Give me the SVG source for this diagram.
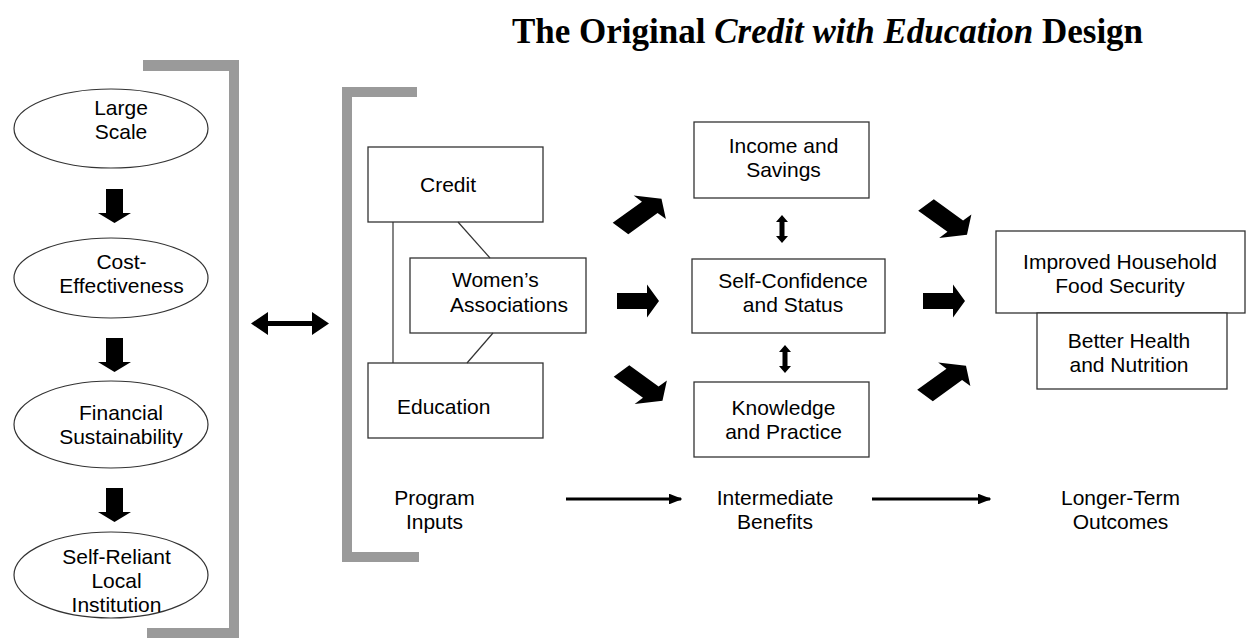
<svg xmlns="http://www.w3.org/2000/svg" xmlns:xlink="http://www.w3.org/1999/xlink" width="1248" height="642" viewBox="0 0 1248 642">
  <style>
    .lbl { font-family: "Liberation Sans", Arial, sans-serif; font-size: 21px; fill: #000; }
    .ttl { font-family: "Liberation Serif", "Times New Roman", serif; font-size: 35px; font-weight: bold; fill: #000; }
    .box { fill: #fff; stroke: #333; stroke-width: 1.3; }
    .oval { fill: #fff; stroke: #333; stroke-width: 1.2; }
    .bracket { fill: #9a9a9a; }
    .blk { fill: #000; }
    .link { stroke: #333; stroke-width: 1.2; fill: none; }
    .flow { stroke: #000; stroke-width: 3; fill: none; }
  </style>
  <defs>
    <!-- block arrow pointing along +x, origin at the tail centre -->
    <path id="blockArrow" d="M0,-8 H30 V-16.5 L42,0 L30,16.5 V8 H0 Z"/>
    <marker id="head" viewBox="0 0 10 8" refX="9" refY="4" markerWidth="4.5" markerHeight="3.6" orient="auto" markerUnits="strokeWidth">
      <path d="M0,0 L10,4 L0,8 Z" fill="#000"/>
    </marker>
  </defs>

  <rect width="1248" height="642" fill="#fff"/>

  <!-- title -->
  <text class="ttl" x="512" y="43">The Original <tspan font-style="italic">Credit with Education</tspan> Design</text>

  <!-- gray brackets -->
  <g id="bracket-left" class="bracket">
    <rect x="143" y="60" width="96" height="11"/>
    <rect x="229" y="60" width="10" height="578"/>
    <rect x="147" y="628" width="92" height="10"/>
  </g>
  <g id="bracket-inputs" class="bracket">
    <rect x="342" y="87" width="75" height="10"/>
    <rect x="342" y="87" width="10" height="475"/>
    <rect x="342" y="552" width="77" height="10"/>
  </g>

  <!-- institutional goals -->
  <g id="large-scale">
    <ellipse class="oval" cx="111" cy="128.5" rx="97" ry="39.5"/>
    <text class="lbl" x="121" y="115" text-anchor="middle">Large</text>
    <text class="lbl" x="121" y="139" text-anchor="middle">Scale</text>
  </g>
  <g id="cost-effectiveness">
    <ellipse class="oval" cx="111" cy="278" rx="97" ry="40"/>
    <text class="lbl" x="121.5" y="268.5" text-anchor="middle">Cost-</text>
    <text class="lbl" x="121.5" y="292.5" text-anchor="middle">Effectiveness</text>
  </g>
  <g id="financial-sustainability">
    <ellipse class="oval" cx="111" cy="424.5" rx="97" ry="43.5"/>
    <text class="lbl" x="121" y="420" text-anchor="middle">Financial</text>
    <text class="lbl" x="121" y="444" text-anchor="middle">Sustainability</text>
  </g>
  <g id="self-reliant">
    <ellipse class="oval" cx="111" cy="575" rx="97" ry="43"/>
    <text class="lbl" x="116.5" y="563.5" text-anchor="middle">Self-Reliant</text>
    <text class="lbl" x="116.5" y="587.5" text-anchor="middle">Local</text>
    <text class="lbl" x="116.5" y="611.5" text-anchor="middle">Institution</text>
  </g>

  <!-- program inputs -->
  <g id="credit">
    <rect class="box" x="368" y="147" width="175" height="75"/>
    <text class="lbl" x="420" y="191.5">Credit</text>
  </g>
  <g id="education">
    <rect class="box" x="368" y="363" width="175" height="75"/>
    <text class="lbl" x="397" y="413.5">Education</text>
  </g>
  <g id="womens-associations">
    <rect class="box" x="410" y="258" width="176" height="75"/>
    <text class="lbl" x="452" y="287">Women’s</text>
    <text class="lbl" x="450" y="311.5">Associations</text>
  </g>

  <!-- intermediate benefits -->
  <g id="income-savings">
    <rect class="box" x="694" y="122" width="175" height="76"/>
    <text class="lbl" x="783.5" y="153" text-anchor="middle">Income and</text>
    <text class="lbl" x="783.5" y="177" text-anchor="middle">Savings</text>
  </g>
  <g id="self-confidence">
    <rect class="box" x="692" y="259" width="193" height="74"/>
    <text class="lbl" x="793" y="287.5" text-anchor="middle">Self-Confidence</text>
    <text class="lbl" x="793" y="311.5" text-anchor="middle">and Status</text>
  </g>
  <g id="knowledge-practice">
    <rect class="box" x="694" y="382" width="175" height="75"/>
    <text class="lbl" x="783.5" y="415" text-anchor="middle">Knowledge</text>
    <text class="lbl" x="783.5" y="439" text-anchor="middle">and Practice</text>
  </g>

  <!-- longer-term outcomes -->
  <g id="food-security">
    <rect class="box" x="996" y="231" width="249" height="82"/>
    <text class="lbl" x="1120" y="269" text-anchor="middle">Improved Household</text>
    <text class="lbl" x="1120" y="293" text-anchor="middle">Food Security</text>
  </g>
  <g id="health-nutrition">
    <rect class="box" x="1037" y="313" width="190" height="76"/>
    <text class="lbl" x="1129" y="347.5" text-anchor="middle">Better Health</text>
    <text class="lbl" x="1129" y="371.5" text-anchor="middle">and Nutrition</text>
  </g>

  <!-- column captions -->
  <g id="caption-inputs">
    <text class="lbl" x="434.5" y="505" text-anchor="middle">Program</text>
    <text class="lbl" x="434.5" y="529" text-anchor="middle">Inputs</text>
  </g>
  <g id="caption-benefits">
    <text class="lbl" x="775" y="505" text-anchor="middle">Intermediate</text>
    <text class="lbl" x="775" y="529" text-anchor="middle">Benefits</text>
  </g>
  <g id="caption-outcomes">
    <text class="lbl" x="1120.5" y="505" text-anchor="middle">Longer-Term</text>
    <text class="lbl" x="1120.5" y="529" text-anchor="middle">Outcomes</text>
  </g>

  <!-- connectors -->
  <g id="connectors">
    <!-- links among the program inputs -->
    <line class="link" x1="393" y1="222" x2="393" y2="363"/>
    <line class="link" x1="458" y1="222" x2="490" y2="258"/>
    <line class="link" x1="493" y1="333" x2="467" y2="363"/>

    <!-- down arrows between goals -->
    <path class="blk" d="M106,189 H123 V213 H131 L114.5,223 L98,213 H106 Z"/>
    <path class="blk" d="M106,338 H123 V362 H131 L114.5,372 L98,362 H106 Z"/>
    <path class="blk" d="M106,488 H123 V512 H131 L114.5,522 L98,512 H106 Z"/>

    <!-- goals to design -->
    <path class="blk" d="M251,323.5 L268,312 V321 H312 V312 L329,323.5 L312,335 V326 H268 V335 Z"/>

    <!-- inputs to benefits -->
    <use xlink:href="#blockArrow" class="blk" transform="translate(620.5,228.5) scale(1.38,1) rotate(-45)"/>
    <use xlink:href="#blockArrow" class="blk" transform="translate(617,301)"/>
    <use xlink:href="#blockArrow" class="blk" transform="translate(621.5,371) scale(1.38,1) rotate(45)"/>

    <!-- benefits to outcomes -->
    <use xlink:href="#blockArrow" class="blk" transform="translate(926,205) scale(1.38,1) rotate(45)"/>
    <use xlink:href="#blockArrow" class="blk" transform="translate(923,301)"/>
    <use xlink:href="#blockArrow" class="blk" transform="translate(925,395.5) scale(1.38,1) rotate(-45)"/>

    <!-- links between the benefits -->
    <path class="blk" d="M782,215 L788,222 H784.5 V236 H788 L782,243 L776,236 H779.5 V222 H776 Z"/>
    <path class="blk" d="M785,345 L791,352 H787.5 V366 H791 L785,373 L779,366 H782.5 V352 H779 Z"/>

    <!-- caption flow -->
    <line class="flow" x1="566" y1="499" x2="681" y2="499" marker-end="url(#head)"/>
    <line class="flow" x1="872" y1="499" x2="990" y2="499" marker-end="url(#head)"/>
  </g>
</svg>
